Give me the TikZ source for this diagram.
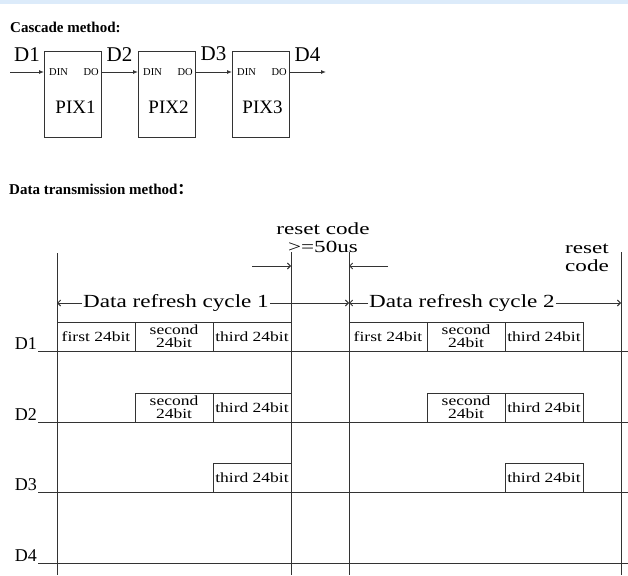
\documentclass[tikz,border=0pt]{standalone}
\usepackage{fontspec}
\setmainfont{Liberation Serif}
\newfontfamily\widefont{Liberation Serif}[FakeStretch=1.25]
\newfontfamily\widerfont{Liberation Serif}[FakeStretch=1.36]
\newfontfamily\cjk{Noto Sans CJK SC}
\usepackage{xcolor}
\usetikzlibrary{positioning,arrows.meta}
\definecolor{bandblue}{HTML}{DCEBFA}

\begin{document}
\begin{tikzpicture}[
        x=1pt, y=-1pt,
        wire/.style={draw=black!80, line width=0.9pt},
        pinarrow/.style={wire, -{Latex[length=5pt,width=4pt]}},
        barb/.style={wire, -{Straight Barb[length=3pt,width=6pt]}},
        title/.style={font=\bfseries\fontsize{15}{18}\selectfont, inner sep=0pt, anchor=west},
        pixbox/.style={rectangle, wire, minimum width=57pt, minimum height=86pt, outer sep=0pt},
        pinlbl/.style={font=\fontsize{10.5}{12}\selectfont, inner sep=0pt},
        pixlbl/.style={font=\fontsize{19}{22}\selectfont, inner sep=0pt},
        dlbl/.style={font=\fontsize{21}{24}\selectfont, inner sep=0pt},
        rowlbl/.style={font=\fontsize{18}{20}\selectfont, inner sep=1pt, anchor=south east},
        slot/.style={rectangle, wire, minimum width=78pt, minimum height=29pt, inner sep=0pt, outer sep=0pt, align=center, font=\widefont\fontsize{14}{13}\selectfont},
        cyclbl/.style={font=\widefont\fontsize{18.5}{20}\selectfont, inner sep=1pt},
        resetlbl/.style={align=center, inner sep=0pt, font=\widerfont\fontsize{17}{18}\selectfont}
    ]
        \useasboundingbox (0,0) rectangle (628,575);
        \fill[bandblue] (0,0) rectangle (628,4);

        % Cascade
        \node[title] (casc) at (10,27) {Cascade method:};
        \node[pixbox] (pix1) at (72.5,94) {};
        \node[pixbox, right=37pt of pix1] (pix2) {};
        \node[pixbox, right=37pt of pix2] (pix3) {};
        \coordinate (din1) at ([yshift=22pt]pix1.west);
        \coordinate (dout1) at ([yshift=22pt]pix1.east);
        \coordinate (din2) at ([yshift=22pt]pix2.west);
        \coordinate (dout2) at ([yshift=22pt]pix2.east);
        \coordinate (din3) at ([yshift=22pt]pix3.west);
        \coordinate (dout3) at ([yshift=22pt]pix3.east);
        \node[pinlbl, anchor=west] (dint1) at ([xshift=5pt]din1) {DIN};
        \node[pinlbl, anchor=east] (dot1) at ([xshift=-2pt]dout1) {DO};
        \node[pinlbl, anchor=west] (dint2) at ([xshift=5pt]din2) {DIN};
        \node[pinlbl, anchor=east] (dot2) at ([xshift=-2pt]dout2) {DO};
        \node[pinlbl, anchor=west] (dint3) at ([xshift=5pt]din3) {DIN};
        \node[pinlbl, anchor=east] (dot3) at ([xshift=-2pt]dout3) {DO};
        \node[pixlbl] (pixt1) at ([xshift=3pt,yshift=-13.5pt]pix1.center) {PIX1};
        \node[pixlbl] (pixt2) at ([xshift=2pt,yshift=-13.5pt]pix2.center) {PIX2};
        \node[pixlbl] (pixt3) at ([xshift=2pt,yshift=-13.5pt]pix3.center) {PIX3};

        % Connection
        \coordinate (in1) at (10,72);
        \coordinate (out4) at ([xshift=37pt]dout3);
        \draw[pinarrow] (in1) -- (din1) node[dlbl, midway, above=10.5pt] (cd1) {D1};
        \draw[pinarrow] (dout1) -- (din2) node[dlbl, midway, above=10.5pt] (cd2) {D2};
        \draw[pinarrow] (dout2) -- (din3) node[dlbl, midway, above=10.5pt] (cd3) {D3};
        \draw[pinarrow] (dout3) -- (out4) node[dlbl, midway, above=10.5pt] (cd4) {D4};

        % Data transmission
        \node[title] (trans) at (9,189) {Data transmission method{\cjk ：}};
        \coordinate (t1) at (57,253);
        \coordinate (t2) at (291,252);
        \coordinate (t3) at (349,252);
        \coordinate (t4) at (621,252);
        \draw[wire] (t1) -- (57,575);
        \draw[wire] (t2) -- (291,575);
        \draw[wire] (t3) -- (349,575);
        \draw[wire] (t4) -- (621,575);

        % Reset code
        \node[resetlbl] (rst1) at (323,238) {reset code\\>=50us};
        \node[resetlbl] (rst2) at (587,258) {reset\\code};
        \coordinate (ra) at (252,266);
        \coordinate (rb) at (388,266);
        \draw[barb] (ra) -- (ra -| t2);
        \draw[barb] (rb) -- (rb -| t3);

        % Refresh cycles
        \node[cyclbl] (cyc1) at (176,303) {Data refresh cycle 1};
        \draw[barb] (cyc1.west) -- (cyc1.west -| t1);
        \draw[barb] (cyc1.east) -- (cyc1.east -| t3);
        \node[cyclbl] (cyc2) at (462,303) {Data refresh cycle 2};
        \draw[barb] (cyc2.west) -- (cyc2.west -| t3);
        \draw[barb] (cyc2.east) -- (cyc2.east -| t4);

        % Signal lines
        \draw[wire] (38,351) coordinate (s1) -- (628,351);
        \draw[wire] (38,422) coordinate (s2) -- (628,422);
        \draw[wire] (38,492) coordinate (s3) -- (628,492);
        \draw[wire] (38,563) coordinate (s4) -- (628,563);
        \node[rowlbl] (row1) at (s1) {D1};
        \node[rowlbl] (row2) at (s2) {D2};
        \node[rowlbl] (row3) at (s3) {D3};
        \node[rowlbl] (row4) at (s4) {D4};

        % Cycle 1 data
        \node[slot, anchor=south west] (a11) at (57,351) {first 24bit};
        \node[slot, right=0pt of a11] (a12) {second\\24bit};
        \node[slot, right=0pt of a12] (a13) {third 24bit};
        \node[slot, anchor=south west] (a22) at (135,422) {second\\24bit};
        \node[slot, right=0pt of a22] (a23) {third 24bit};
        \node[slot, anchor=south west] (a33) at (213,492) {third 24bit};

        % Cycle 2 data
        \node[slot, anchor=south west] (b11) at (349,351) {first 24bit};
        \node[slot, right=0pt of b11] (b12) {second\\24bit};
        \node[slot, right=0pt of b12] (b13) {third 24bit};
        \node[slot, anchor=south west] (b22) at (427,422) {second\\24bit};
        \node[slot, right=0pt of b22] (b23) {third 24bit};
        \node[slot, anchor=south west] (b33) at (505,492) {third 24bit};
    \end{tikzpicture}
\end{document}
